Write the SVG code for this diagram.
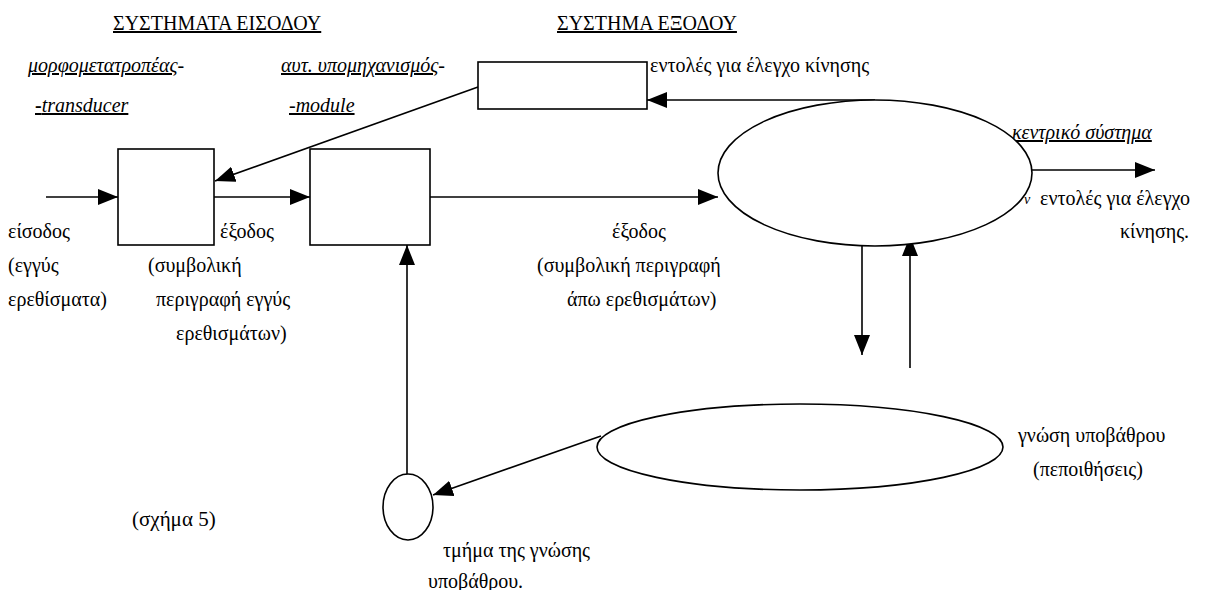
<svg xmlns="http://www.w3.org/2000/svg" width="1215" height="590" viewBox="0 0 1215 590">
<defs>
<marker id="ah" viewBox="0 0 20 16" refX="20" refY="8" markerWidth="20" markerHeight="16" markerUnits="userSpaceOnUse" orient="auto"><path d="M0,0 L20,8 L0,16 z" fill="#000"/></marker>
</defs>
<rect width="1215" height="590" fill="#fff"/>
<g id="headings">
<text font-family="Liberation Serif" style="font-family:'Liberation Serif' !important" font-size="20" text-decoration="underline" x="113" y="30">ΣΥΣΤΗΜΑΤΑ ΕΙΣΟΔΟΥ</text>
<text font-family="Liberation Serif" style="font-family:'Liberation Serif' !important" font-size="20" text-decoration="underline" x="557" y="30">ΣΥΣΤΗΜΑ ΕΞΟΔΟΥ</text>
<text font-family="Liberation Serif" style="font-family:'Liberation Serif' !important" font-size="20" font-style="italic" x="28" y="72"><tspan text-decoration="underline">μορφομετατροπέας</tspan>-</text>
<text font-family="Liberation Serif" style="font-family:'Liberation Serif' !important" font-size="20" font-style="italic" x="281" y="72"><tspan text-decoration="underline">αυτ. υπομηχανισμός</tspan>-</text>
<text font-family="Liberation Serif" style="font-family:'Liberation Serif' !important" font-size="20" font-style="italic" text-decoration="underline" x="35" y="112"><tspan font-weight="bold" font-style="normal">-</tspan>transducer</text>
<text font-family="Liberation Serif" style="font-family:'Liberation Serif' !important" font-size="20" font-style="italic" text-decoration="underline" x="289" y="112">-module</text>
<text font-family="Liberation Serif" style="font-family:'Liberation Serif' !important" font-size="20" font-style="italic" text-decoration="underline" x="1012" y="139">κεντρικό σύστημα</text>
<text font-family="Liberation Serif" style="font-family:'Liberation Serif' !important" font-size="21" x="132" y="526">(σχήμα 5)</text>
</g>
<g id="connectors" fill="none" stroke="#000" stroke-width="1.6">
<line x1="46" y1="197" x2="118" y2="197" marker-end="url(#ah)"/>
<line x1="214" y1="197" x2="310" y2="197" marker-end="url(#ah)"/>
<line x1="430" y1="197" x2="718" y2="197" marker-end="url(#ah)"/>
<line x1="875" y1="100" x2="647" y2="100" marker-end="url(#ah)"/>
<line x1="478" y1="87" x2="215" y2="181" marker-end="url(#ah)"/>
<line x1="1032" y1="170" x2="1155" y2="170" marker-end="url(#ah)"/>
<line x1="862" y1="235" x2="862" y2="355" marker-end="url(#ah)"/>
<line x1="910" y1="368" x2="910" y2="236" marker-end="url(#ah)"/>
<line x1="407" y1="474" x2="407" y2="245" marker-end="url(#ah)"/>
<line x1="601" y1="436" x2="433" y2="495" marker-end="url(#ah)"/>
</g>
<g id="output-system">
<rect x="478" y="62" width="169" height="47" fill="#fff" stroke="#000" stroke-width="1.6"/>
<text font-family="Liberation Serif" style="font-family:'Liberation Serif' !important" font-size="20" x="650" y="72">εντολές για έλεγχο κίνησης</text>
</g>
<g id="transducer">
<rect x="118" y="149" width="96" height="96" fill="#fff" stroke="#000" stroke-width="1.6"/>
</g>
<g id="module">
<rect x="310" y="149" width="120" height="96" fill="#fff" stroke="#000" stroke-width="1.6"/>
</g>
<g id="central-system">
<ellipse cx="875" cy="173" rx="157" ry="73" fill="#fff" stroke="#000" stroke-width="1.6"/>
<text font-family="Liberation Serif" style="font-family:'Liberation Serif' !important" font-size="14" font-style="italic" x="1024" y="204">ν</text>
<text font-family="Liberation Serif" style="font-family:'Liberation Serif' !important" font-size="20" x="1040" y="205">εντολές για έλεγχο</text>
<text font-family="Liberation Serif" style="font-family:'Liberation Serif' !important" font-size="20" x="1120" y="238">κίνησης.</text>
</g>
<g id="background-knowledge">
<ellipse cx="800" cy="447" rx="203" ry="43" fill="#fff" stroke="#000" stroke-width="1.6"/>
<text font-family="Liberation Serif" style="font-family:'Liberation Serif' !important" font-size="20" x="1018" y="442">γνώση υποβάθρου</text>
<text font-family="Liberation Serif" style="font-family:'Liberation Serif' !important" font-size="20" x="1033" y="476">(πεποιθήσεις)</text>
</g>
<g id="knowledge-part">
<ellipse cx="408" cy="507" rx="25" ry="33" fill="#fff" stroke="#000" stroke-width="1.6"/>
<text font-family="Liberation Serif" style="font-family:'Liberation Serif' !important" font-size="20" x="443" y="557">τμήμα της γνώσης</text>
<text font-family="Liberation Serif" style="font-family:'Liberation Serif' !important" font-size="20" x="428" y="588">υποβάθρου.</text>
</g>
<g id="labels">
<text font-family="Liberation Serif" style="font-family:'Liberation Serif' !important" font-size="20" x="8" y="238">είσοδος</text>
<text font-family="Liberation Serif" style="font-family:'Liberation Serif' !important" font-size="20" x="220" y="238">έξοδος</text>
<text font-family="Liberation Serif" style="font-family:'Liberation Serif' !important" font-size="20" x="8" y="272">(εγγύς</text>
<text font-family="Liberation Serif" style="font-family:'Liberation Serif' !important" font-size="20" x="8" y="306">ερεθίσματα)</text>
<text font-family="Liberation Serif" style="font-family:'Liberation Serif' !important" font-size="20" x="148" y="272">(συμβολική</text>
<text font-family="Liberation Serif" style="font-family:'Liberation Serif' !important" font-size="20" x="156" y="306">περιγραφή εγγύς</text>
<text font-family="Liberation Serif" style="font-family:'Liberation Serif' !important" font-size="20" x="176" y="340">ερεθισμάτων)</text>
<text font-family="Liberation Serif" style="font-family:'Liberation Serif' !important" font-size="20" x="612" y="238">έξοδος</text>
<text font-family="Liberation Serif" style="font-family:'Liberation Serif' !important" font-size="20" x="537" y="272">(συμβολική περιγραφή</text>
<text font-family="Liberation Serif" style="font-family:'Liberation Serif' !important" font-size="20" x="567" y="306">άπω ερεθισμάτων)</text>
</g>
</svg>
